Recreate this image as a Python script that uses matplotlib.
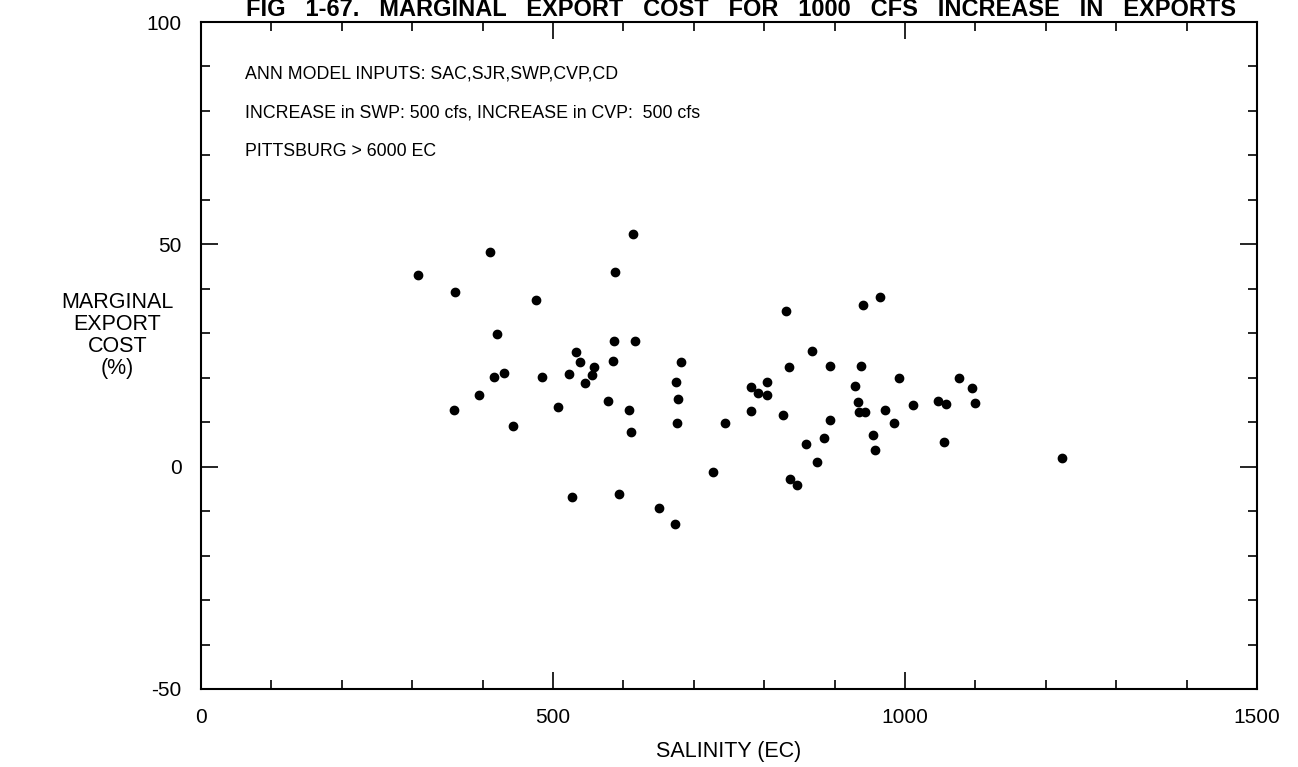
import numpy as np
import matplotlib
matplotlib.use("Agg")
import matplotlib.pyplot as plt
from matplotlib.ticker import MultipleLocator

plt.rcParams['font.family'] = ['Liberation Sans', 'DejaVu Sans']
plt.rcParams['axes.unicode_minus'] = False

# salinity (EC) and marginal export cost (%)
salinity = [308, 410, 361, 476, 613, 588, 420, 586, 617, 533,
            538, 558, 556, 585, 431, 416, 484, 523, 546, 395,
            578, 507, 360, 608, 443, 611,
            594, 650, 673, 682, 675, 677, 676, 745, 727, 831,
            781, 791, 804, 804, 781, 827, 835, 868, 894, 837,
            846, 859, 875, 885, 893, 940, 965, 938, 929, 933,
            934, 943, 972, 985, 954, 957, 991, 1012, 1047, 1058,
            1056, 1077, 1095, 1099, 1223, 527]
cost = [43.0, 48.2, 39.3, 37.5, 52.3, 43.7, 29.8, 28.3, 28.3, 25.7,
        23.6, 22.4, 20.6, 23.8, 21.1, 20.1, 20.2, 20.9, 18.9, 16.1,
        14.7, 13.4, 12.7, 12.8, 9.1, 7.8,
        -6.1, -9.2, -12.9, 23.6, 19.1, 15.2, 9.9, 9.8, -1.1, 35.0,
        17.9, 16.5, 19.1, 16.1, 12.6, 11.6, 22.4, 26.0, 22.7, -2.7,
        -4.1, 5.0, 1.0, 6.5, 10.4, 36.3, 38.1, 22.7, 18.2, 14.6,
        12.4, 12.2, 12.7, 9.9, 7.1, 3.7, 20.0, 13.9, 14.7, 14.0,
        5.5, 20.0, 17.8, 14.4, 1.9, -6.8]

notes = ["ANN MODEL INPUTS: SAC,SJR,SWP,CVP,CD",
         "INCREASE in SWP: 500 cfs, INCREASE in CVP:  500 cfs",
         "PITTSBURG > 6000 EC"]
title = "FIG   1-67.   MARGINAL   EXPORT   COST   FOR   1000   CFS   INCREASE   IN   EXPORTS"

fig = plt.figure(figsize=(12.98, 7.67), dpi=100)
ax = fig.add_axes([201/1298, 1 - 689/767, 1056/1298, 667/767])

ax.plot(salinity, cost, 'o', color='black', markersize=6, linestyle='none')

ax.set_xlim(0, 1500)
ax.set_ylim(-50, 100)
ax.xaxis.set_major_locator(MultipleLocator(500))
ax.xaxis.set_minor_locator(MultipleLocator(100))
ax.yaxis.set_major_locator(MultipleLocator(50))
ax.yaxis.set_minor_locator(MultipleLocator(10))
ax.tick_params(which='both', direction='in', top=True, right=True, width=1.2,
               labelsize=15)
ax.tick_params(axis='x', which='both', pad=14)
ax.tick_params(axis='y', which='both', pad=14)
ax.tick_params(which='major', length=12)
ax.tick_params(which='minor', length=6.5)
for s in ax.spines.values():
    s.set_linewidth(1.5)

ax.set_xlabel("SALINITY (EC)", fontsize=15.5, labelpad=10)
ax.set_ylabel("MARGINAL\nEXPORT\nCOST\n(%)", fontsize=15.5, rotation=0,
              ha='center', va='center', linespacing=1.05)
ax.yaxis.set_label_coords(-0.079, 0.53)

for k, t in enumerate(notes):
    ax.text(62, 88.3 - k * 8.7, t, fontsize=12.8, va='center', ha='left')

fig.text(246/1298, 1 - 16/767, title, fontsize=17, fontweight='bold',
         ha='left', va='baseline')

fig.savefig("out.png", dpi=100)
